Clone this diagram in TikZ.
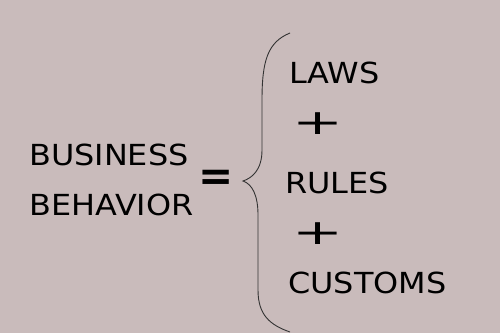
\documentclass[tikz,border=0pt]{standalone}
\usepackage{fontspec}
\setmainfont{DejaVu Sans}
\usetikzlibrary{positioning}
\definecolor{bgmauve}{HTML}{C9BBBB}
\definecolor{bracegray}{HTML}{333333}
\newcommand{\widetext}[1]{\scalebox{1.1}[1]{#1}}

\begin{document}
\begin{tikzpicture}[
  x=1pt,y=-1pt,
  word/.style={anchor=base west,inner sep=0pt,font=\fontsize{29}{35}\selectfont},
  sign/.style={anchor=center,inner sep=0pt,font=\fontsize{29}{35}\selectfont},
  brace/.style={draw=bracegray,line width=0.9pt}
]
\fill[bgmauve] (0,0) rectangle (500,333);
\useasboundingbox (0,0) rectangle (500,333);
\node[word] (busA) at (29,165) {\widetext{BUSINESS}};
\node[word] (busB) at (29,215) {\widetext{BEHAVIOR}};
\node[sign] (eq) at (216,180.5) {\scalebox{1.45}{\bfseries =}};
\node[word] (laws) at (289,83) {\widetext{LAWS}};
\node[sign] (plusA) at (318,123.5) {\scalebox{2.1}[1.2]{+}};
\node[word] (rules) at (285,193) {\widetext{RULES}};
\node[sign] (plusB) at (318,233.5) {\scalebox{2.1}[1.2]{+}};
\node[word] (customs) at (288,293) {\widetext{CUSTOMS}};
% the brace
\draw[brace] (290,33) .. controls (268,42) and (262,60) .. (262,100)
  -- (262,150) .. controls (262,170) and (252,178) .. (243,181)
  .. controls (252,184) and (258,195) .. (258,215)
  -- (258,290) .. controls (258,315) and (270,325) .. (290,332);
\end{tikzpicture}
\end{document}
